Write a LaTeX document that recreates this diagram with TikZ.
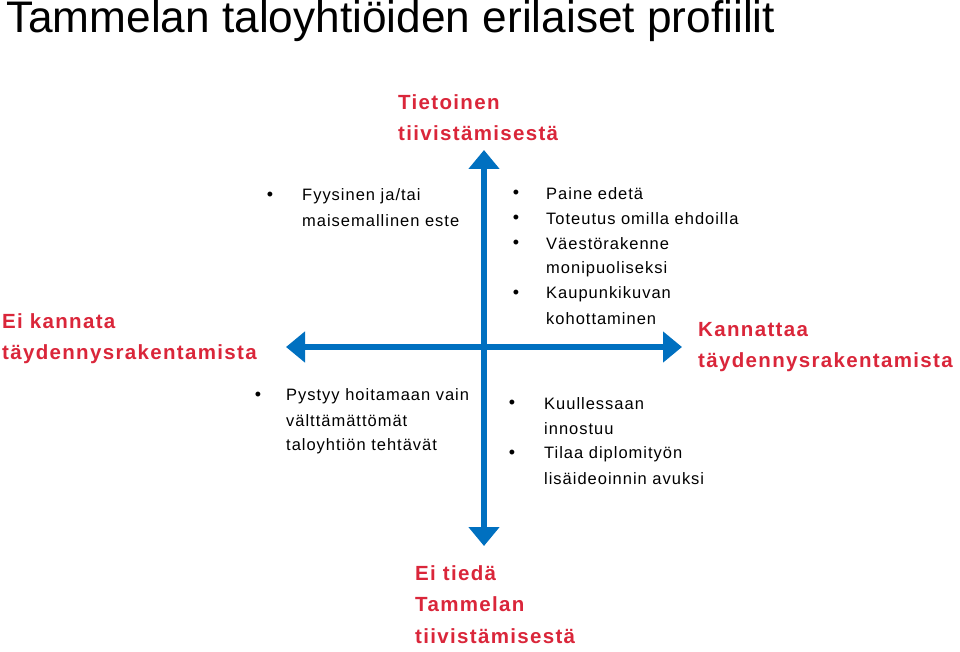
\documentclass[tikz,border=0pt]{standalone}
\usepackage{fontspec}
\setmainfont{Liberation Sans}
\newfontfamily\spaced[LetterSpace=6]{Liberation Sans}
\newfontfamily\spacedb[LetterSpace=6.5]{Liberation Sans Bold}
\usetikzlibrary{arrows.meta}
\definecolor{lblred}{RGB}{218,38,58}
\definecolor{axblue}{RGB}{0,112,192}
\tikzset{
 lbl/.style={anchor=north west,text=lblred,font=\spacedb\fontsize{20.5}{31.5}\selectfont,align=left,inner sep=0pt},
 txt/.style={anchor=west,font=\spaced\fontsize{16.5}{25}\selectfont,inner sep=0pt},
 bul/.style={anchor=center,font=\fontsize{18}{18}\selectfont,inner sep=0pt},
 axis/.style={line width=6pt,draw=axblue,{Triangle[length=19pt,width=30pt]}-{Triangle[length=19pt,width=30pt]}}
}
\begin{document}
\begin{tikzpicture}[x=1pt,y=-1pt]
\useasboundingbox (0,0) rectangle (960,652);
\fill[white] (0,0) rectangle (960,652);
\node[anchor=west,inner sep=0pt,font=\fontsize{44.2}{48}\selectfont] (title) at (6,21) {Tammelan taloyhtiöiden erilaiset profiilit};
\coordinate (top) at (484,150);
\coordinate (bot) at (484,546);
\coordinate (lft) at (286,347);
\coordinate (rgt) at (682,347);
\draw[axis] (top) -- (bot);
\draw[axis] (lft) -- (rgt);
\node[lbl] (n) at (398,94) {Tietoinen\\tiivistämisestä};
\node[lbl] (w) at (2,313) {Ei kannata\\täydennysrakentamista};
\node[lbl] (e) at (698,322) {Kannattaa\\täydennysrakentamista};
\node[lbl] (s) at (415,565) {Ei tiedä\\Tammelan\\tiivistämisestä};
% top-left
\node[bul] (b1) at (270,196) {•};
\node[txt] (t1) at (302,196) {Fyysinen ja/tai};
\node[txt] (t2) at (302,221) {maisemallinen este};
% top-right
\node[bul] (b2) at (516,194) {•};
\node[bul] (b3) at (516,219) {•};
\node[bul] (b4) at (516,244) {•};
\node[bul] (b5) at (516,294) {•};
\node[txt] (t3) at (546,194) {Paine edetä};
\node[txt] (t4) at (546,219) {Toteutus omilla ehdoilla};
\node[txt] (t5) at (546,244) {Väestörakenne};
\node[txt] (t6) at (546,269) {monipuoliseksi};
\node[txt] (t7) at (546,294) {Kaupunkikuvan};
\node[txt] (t8) at (546,319) {kohottaminen};
% bottom-left
\node[bul] (b6) at (258,396) {•};
\node[txt] (t9) at (286,396) {Pystyy hoitamaan vain};
\node[txt] (t10) at (286,421) {välttämättömät};
\node[txt] (t11) at (286,446) {taloyhtiön tehtävät};
% bottom-right
\node[bul] (b7) at (512,404) {•};
\node[bul] (b8) at (512,454) {•};
\node[txt] (t12) at (544,404) {Kuullessaan};
\node[txt] (t13) at (544,429) {innostuu};
\node[txt] (t14) at (544,454) {Tilaa diplomityön};
\node[txt] (t15) at (544,479) {lisäideoinnin avuksi};
\end{tikzpicture}
\end{document}
